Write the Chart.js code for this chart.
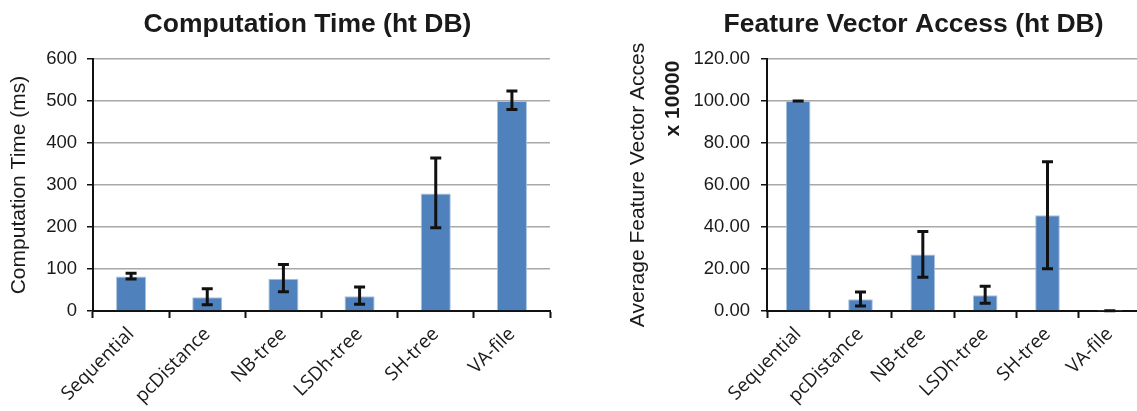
<!DOCTYPE html>
<html>
<head>
<meta charset="utf-8">
<script src="https://cdn.jsdelivr.net/npm/chart.js@4/dist/chart.umd.min.js"></script>
<style>
  html, body { margin: 0; padding: 0; background: #fff; }
  #wrap { position: relative; width: 1137px; height: 411px; overflow: hidden; }
  canvas { position: absolute; top: 0; }
  #timeChart { left: 0; }
  #accessChart { left: 568px; }
</style>
</head>
<body>
<div id="wrap">
  <canvas id="timeChart" width="568" height="411"></canvas>
  <canvas id="accessChart" width="580" height="411"></canvas>
</div>
<script>
// Index structures compared on the ht database
const categories = ['Sequential', 'pcDistance', 'NB-tree', 'LSDh-tree', 'SH-tree', 'VA-file'];

// Computation time (ms): mean with lower / upper error bounds
const timeMean = [82, 33, 77, 35, 280, 500];
const timeLow  = [76, 15, 46, 16, 198, 480];
const timeHigh = [90, 53, 111, 57, 364, 524];
const timeTicks = [0, 100, 200, 300, 400, 500, 600];

// Average feature vector accesses (x 10000): mean with lower / upper error bounds
const accessMean = [100, 5.6, 26.9, 7.5, 45.6, 0.1];
const accessLow  = [100, 2.4, 16.1, 3.7, 20.1, 0.1];
const accessHigh = [100, 9.1, 37.8, 11.8, 71.1, 0.1];
const accessTicks = [0, 20, 40, 60, 80, 100, 120];

const BAR_BLUE = '#4f81bd';
const TEXT = '#1a1a1a';
const SANS = '"Liberation Sans", Arial, sans-serif';
const LABEL_FONT = '"Open Sans", "Liberation Sans", sans-serif';

// Draws vertical error bars with caps on top of each bar
const errorBars = {
  id: 'errorBars',
  afterDatasetsDraw(chart) {
    const ctx = chart.ctx;
    const y = chart.scales.y;
    chart.data.datasets.forEach((ds, di) => {
      const meta = chart.getDatasetMeta(di);
      meta.data.forEach((bar, i) => {
        const lo = y.getPixelForValue(ds.errorLow[i]);
        const hi = y.getPixelForValue(ds.errorHigh[i]);
        const half = 5.5;
        ctx.save();
        ctx.strokeStyle = '#111';
        ctx.lineWidth = 3;
        ctx.lineCap = 'butt';
        ctx.beginPath();
        ctx.moveTo(bar.x, lo);
        ctx.lineTo(bar.x, hi);
        ctx.moveTo(bar.x - half, lo);
        ctx.lineTo(bar.x + half, lo);
        ctx.moveTo(bar.x - half, hi);
        ctx.lineTo(bar.x + half, hi);
        ctx.stroke();
        ctx.restore();
      });
    });
  }
};

// Chart heading and extra axis caption lines
const captions = {
  id: 'captions',
  afterDraw(chart, args, opts) {
    const ctx = chart.ctx;
    ctx.save();
    ctx.fillStyle = TEXT;
    if (opts.heading) {
      ctx.font = 'bold 26.5px ' + SANS;
      ctx.textAlign = 'center';
      ctx.textBaseline = 'alphabetic';
      ctx.fillText(opts.heading.text, opts.heading.x, opts.heading.y);
    }
    if (opts.sideNote) {
      ctx.translate(opts.sideNote.x, opts.sideNote.y);
      ctx.rotate(-Math.PI / 2);
      ctx.font = 'bold 21px ' + SANS;
      ctx.textAlign = 'center';
      ctx.textBaseline = 'middle';
      ctx.fillText(opts.sideNote.text, 0, 0);
    }
    ctx.restore();
  }
};

function makeChart(canvasId, cfg) {
  return new Chart(document.getElementById(canvasId), {
    type: 'bar',
    data: {
      labels: categories,
      datasets: [{
        data: cfg.mean,
        errorLow: cfg.low,
        errorHigh: cfg.high,
        backgroundColor: BAR_BLUE,
        borderColor: '#a9c1de',
        borderWidth: 1,
        categoryPercentage: 1,
        barPercentage: 0.395
      }]
    },
    options: {
      responsive: false,
      devicePixelRatio: 1,
      animation: false,
      layout: { padding: { top: 59, right: cfg.padRight, left: 0, bottom: 0 } },
      plugins: {
        legend: { display: false },
        tooltip: { enabled: false },
        title: { display: false },
        captions: cfg.captions
      },
      scales: {
        x: {
          grid: {
            offset: true,
            drawOnChartArea: false,
            tickLength: 7,
            tickColor: '#111',
            tickWidth: 2
          },
          border: { color: '#111', width: 2 },
          ticks: {
            autoSkip: false,
            minRotation: 45,
            maxRotation: 45,
            color: TEXT,
            padding: 5,
            font: { family: LABEL_FONT, size: 19 }
          },
          afterFit(scale) { scale.height = 100; }
        },
        y: {
          min: 0,
          max: cfg.ticks[cfg.ticks.length - 1],
          afterBuildTicks(scale) { scale.ticks = cfg.ticks.map(v => ({ value: v })); },
          grid: {
            color: '#a8a8a8',
            lineWidth: 1.5,
            tickLength: 6,
            tickColor: '#111'
          },
          border: { color: '#111', width: 2 },
          ticks: {
            color: TEXT,
            padding: cfg.tickPad,
            font: { family: SANS, size: 18.5 },
            callback: cfg.tickFormat
          },
          title: {
            display: true,
            text: cfg.yTitle,
            color: TEXT,
            padding: { top: cfg.titlePad, bottom: 0 },
            font: { family: SANS, size: 21, weight: 'normal' }
          },
          afterFit(scale) { scale.width = cfg.yWidth; }
        }
      }
    },
    plugins: [errorBars, captions]
  });
}

makeChart('timeChart', {
  mean: timeMean, low: timeLow, high: timeHigh, ticks: timeTicks,
  tickFormat: v => String(v),
  yTitle: 'Computation Time (ms)',
  yWidth: 93, padRight: 18, titlePad: 7, tickPad: 10,
  captions: { heading: { text: 'Computation Time (ht DB)', x: 307.5, y: 32 } }
});

makeChart('accessChart', {
  mean: accessMean, low: accessLow, high: accessHigh, ticks: accessTicks,
  tickFormat: v => Number(v).toFixed(2),
  yTitle: 'Average Feature Vector Acces',
  yWidth: 199, padRight: 7, titlePad: 58, tickPad: 11,
  captions: {
    heading: { text: 'Feature Vector Access (ht DB)', x: 345.5, y: 32 },
    sideNote: { text: 'x 10000', x: 105, y: 98.5 }
  }
});
</script>
</body>
</html>
